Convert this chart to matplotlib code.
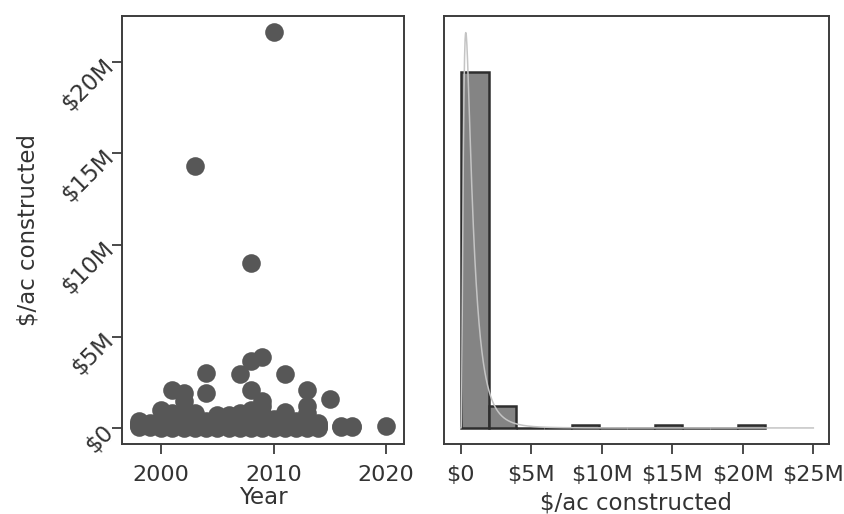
import numpy as np
import matplotlib.pyplot as plt
from matplotlib.ticker import FuncFormatter

# $/ac constructed, in millions, listed by year
years = [1998, 1999, 2000, 2001, 2002, 2003, 2004, 2005, 2006, 2007,
         2008, 2009, 2010, 2011, 2012, 2013, 2014, 2015, 2016, 2017, 2020]
values_by_year = [
    [0.3, 0.2, 0.1, 0.4, 0.15, 0.05],
    [0.2, 0.1, 0.3, 0.05, 0.25],
    [1.0, 0.5, 0.2, 0.1, 0.05, 0.3, 0.15, 0.02],
    [2.1, 0.6, 0.4, 0.2, 0.1, 0.05, 0.3, 0.8, 0.02],
    [1.9, 1.5, 0.9, 0.4, 0.2, 0.1, 0.05, 0.6, 0.02, 0.3],
    [14.3, 0.8, 0.3, 0.1, 0.05, 0.5, 0.2, 0.02],
    [3.0, 1.9, 0.2, 0.1, 0.05, 0.4, 0.02],
    [0.7, 0.3, 0.1, 0.05, 0.5, 0.2, 0.02, 0.15],
    [0.6, 0.4, 0.2, 0.1, 0.05, 0.3, 0.02, 0.7],
    [2.95, 0.5, 0.3, 0.1, 0.05, 0.8, 0.2, 0.02],
    [9.0, 3.66, 2.1, 1.0, 0.5, 0.3, 0.1, 0.05, 0.7, 0.2, 0.02],
    [3.9, 1.5, 1.2, 0.8, 0.4, 0.2, 0.1, 0.05, 0.6, 0.02],
    [21.6, 0.5, 0.3, 0.1, 0.05, 0.2, 0.02, 0.4],
    [2.95, 0.9, 0.4, 0.2, 0.1, 0.05, 0.02, 0.3],
    [0.3, 0.2, 0.1, 0.05, 0.02, 0.4],
    [2.1, 1.2, 0.8, 0.4, 0.2, 0.1, 0.05, 0.02],
    [0.3, 0.2, 0.1, 0.02, 0.05],
    [1.6],
    [0.1, 0.05],
    [0.05, 0.1],
    [0.1],
]

# fitted lognormal curve drawn over the histogram (mode, shape, peak in counts)
curve_mode = 0.35
curve_sigma = 0.8
curve_peak = 142

x_year = np.concatenate([[y] * len(v) for y, v in zip(years, values_by_year)])
y_val = np.concatenate([np.array(v) for v in values_by_year]) * 1e6

plt.rcParams['font.family'] = 'DejaVu Sans'
plt.rcParams['font.size'] = 16.5
txt = '#333333'
frame = '#3c3c3c'

fig = plt.figure(figsize=(8.44, 5.14), dpi=100)
ax1 = fig.add_axes([0.1445, 0.136, 0.334, 0.833])
ax2 = fig.add_axes([0.526, 0.136, 0.456, 0.833])

def money(v, pos):
    if v == 0:
        return r'\$0'
    return r'\$%dM' % round(v / 1e6)

# scatter by year
ax1.scatter(x_year, y_val, s=180, color='#575757', linewidths=0, zorder=3)
ax1.set_xlim(1996.5, 2021.6)
ax1.set_ylim(-0.87e6, 22.5e6)
ax1.set_xticks([2000, 2010, 2020])
ax1.set_yticks([0, 5e6, 10e6, 15e6, 20e6])
ax1.yaxis.set_major_formatter(FuncFormatter(money))
for lab in ax1.get_yticklabels():
    lab.set_rotation(45)
    lab.set_rotation_mode('anchor')
    lab.set_ha('right')
    lab.set_va('center')
ax1.set_xlabel('Year', color=txt, labelpad=1)
ax1.set_ylabel('$/ac constructed', color=txt, labelpad=12)

# histogram of the same values
counts, edges = np.histogram(y_val, bins=11)
ax2.bar(edges[:-1], counts, width=np.diff(edges), align='edge',
        color='#848484', edgecolor='#2e2e2e', linewidth=1.8, zorder=2)

xs = np.linspace(1e3, 25e6, 2000)
mu = np.log(curve_mode) + curve_sigma ** 2
xm = xs / 1e6
pdf = np.exp(-(np.log(xm) - mu) ** 2 / (2 * curve_sigma ** 2)) / xm
pdf_mode = np.exp(-(np.log(curve_mode) - mu) ** 2 / (2 * curve_sigma ** 2)) / curve_mode
ax2.plot(xs, pdf / pdf_mode * curve_peak, color='#c4c4c4', linewidth=1.1, zorder=3)

ax2.set_xlim(-1.2e6, 26.1e6)
ax2.set_ylim(-5.8, 148)
ax2.set_xticks([0, 5e6, 10e6, 15e6, 20e6, 25e6])
ax2.xaxis.set_major_formatter(FuncFormatter(money))
ax2.set_yticks([])
ax2.set_xlabel('$/ac constructed', color=txt, labelpad=5)

for ax in (ax1, ax2):
    for sp in ax.spines.values():
        sp.set_color(frame)
        sp.set_linewidth(1.4)
    ax.tick_params(length=7, width=1.3, color=frame, labelcolor=txt, pad=2)
    ax.tick_params(axis='x', pad=8, labelsize=16)

fig.savefig('out.png', dpi=100)
